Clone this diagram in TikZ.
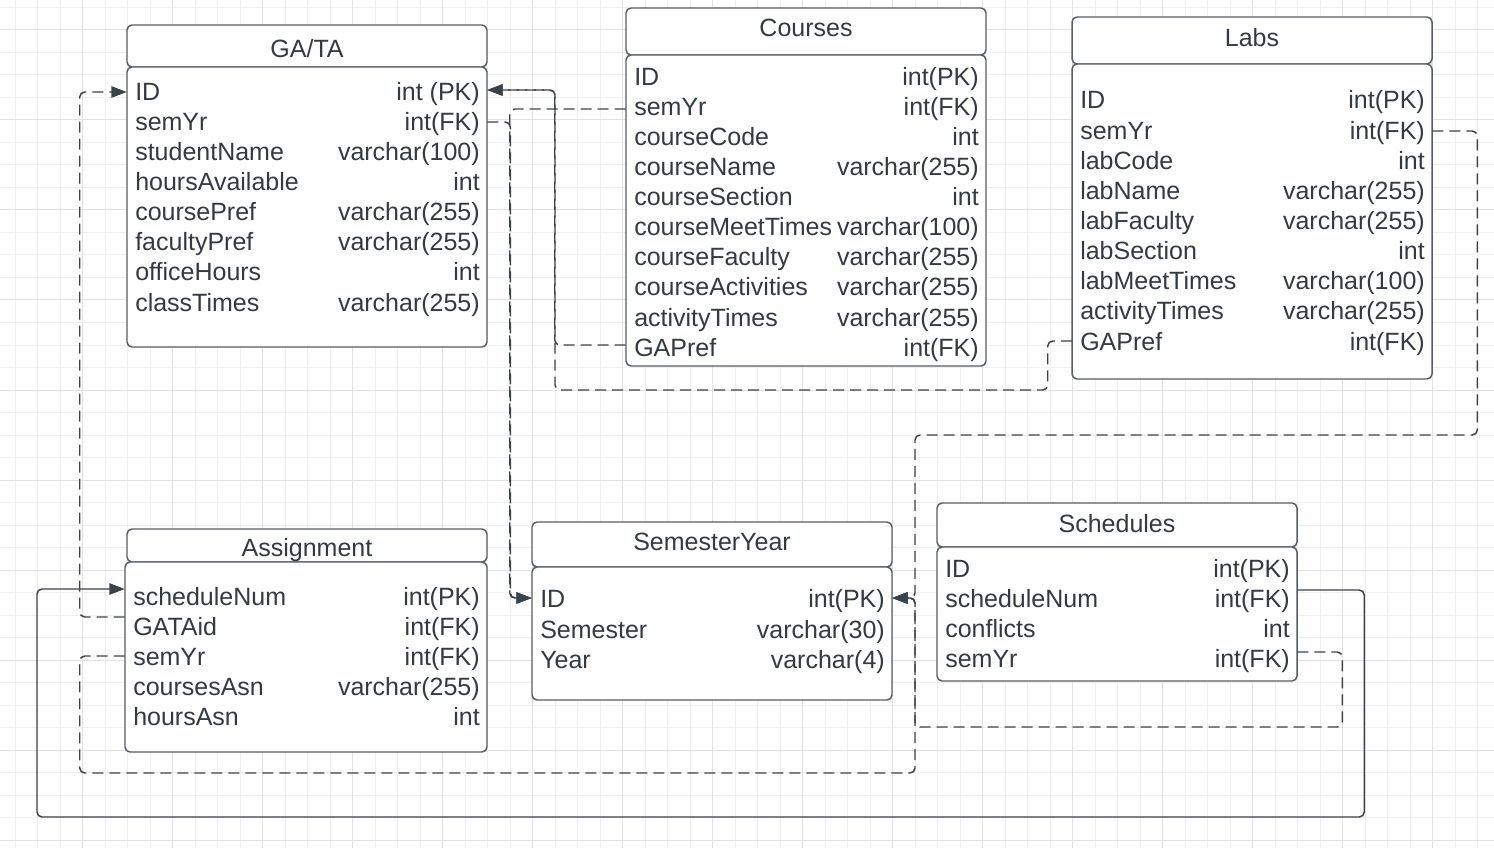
\documentclass[tikz,border=0pt]{standalone}
\usepackage{fontspec}
\setmainfont{Liberation Sans}
\usetikzlibrary{arrows.meta,calc}
\definecolor{gridlight}{HTML}{EFEFEF}
\definecolor{griddark}{HTML}{E1E1E1}
\definecolor{boxline}{HTML}{575D64}
\definecolor{connline}{HTML}{3C424A}
\definecolor{txtcol}{HTML}{343A41}
\tikzset{
  tablebox/.style={draw=boxline, fill=white, line width=1.1pt, rounded corners=3.75pt, inner sep=0pt},
  rowbox/.style={inner sep=0pt, minimum height=22.5pt},
  ftxt/.style={inner sep=0pt, text=txtcol, font=\fontsize{18.75}{22}\selectfont},
  ttl/.style={ftxt, anchor=base},
  conn/.style={draw=connline, line width=1.1pt, rounded corners=3.75pt, -{Triangle[length=11.5pt,width=8.5pt]}},
  fk/.style={conn, dash pattern=on 8.25pt off 4.5pt},
  pk/.style={conn}
}
\newcommand{\errow}[6]{%
  \node[rowbox, minimum width={(#3-#2)*0.75pt}] (#1) at ({(#2+#3)/2},#4) {};
  \node[ftxt, anchor=base west] (#1-n) at ({#2+8},{#4+9}) {#5};
  \node[ftxt, anchor=base east] (#1-t) at ({#3-7},{#4+9}) {#6};
}
\begin{document}
\begin{tikzpicture}[x=0.75pt, y=-0.75pt]
\fill[white] (0,0) rectangle (1494,848);
\useasboundingbox (0,0) rectangle (1494,848);
% grid
\foreach \k in {0,...,65} {
  \pgfmathsetmacro\gx{15+22.5*\k}
  \draw[gridlight, line width=0.75pt] (\gx,0) -- (\gx,848);
}
\foreach \k in {0,...,37} {
  \pgfmathsetmacro\gy{7.5+22.5*\k}
  \draw[gridlight, line width=0.75pt] (0,\gy) -- (1494,\gy);
}
\foreach \gx in {82.5,172.5,...,1480} {
  \draw[griddark, line width=0.75pt] (\gx,0) -- (\gx,848);
}
\foreach \gy in {30,120,...,845} {
  \draw[griddark, line width=0.75pt] (0,\gy) -- (1494,\gy);
}

% ---------- GA/TA ----------
\node[tablebox, minimum width=270pt, minimum height=31.5pt] (ga-h) at (307,46) {};
\node[tablebox, minimum width=270pt, minimum height=210pt] (ga-b) at (307,207) {};
\node[ttl] (ga-title) at (307,58) {GA/TA};
\errow{ga-id}{127}{487}{92}{ID}{int (PK)}
\errow{ga-semyr}{127}{487}{122}{semYr}{int(FK)}
\errow{ga-sname}{127}{487}{152}{studentName}{varchar(100)}
\errow{ga-hours}{127}{487}{182}{hoursAvailable}{int}
\errow{ga-cpref}{127}{487}{212}{coursePref}{varchar(255)}
\errow{ga-fpref}{127}{487}{242}{facultyPref}{varchar(255)}
\errow{ga-office}{127}{487}{272}{officeHours}{int}
\errow{ga-class}{127}{487}{302}{classTimes}{varchar(255)}

% ---------- Courses ----------
\node[tablebox, minimum width=270pt, minimum height=35.25pt] (crs-h) at (806,31.5) {};
\node[tablebox, minimum width=270pt, minimum height=233.25pt] (crs-b) at (806,210.5) {};
\node[ttl] (crs-title) at (806,37) {Courses};
\errow{crs-id}{626}{986}{77}{ID}{int(PK)}
\errow{crs-semyr}{626}{986}{107}{semYr}{int(FK)}
\errow{crs-code}{626}{986}{137}{courseCode}{int}
\errow{crs-name}{626}{986}{167}{courseName}{varchar(255)}
\errow{crs-sect}{626}{986}{197}{courseSection}{int}
\errow{crs-meet}{626}{986}{227}{courseMeetTimes}{varchar(100)}
\errow{crs-fac}{626}{986}{257}{courseFaculty}{varchar(255)}
\errow{crs-act}{626}{986}{287}{courseActivities}{varchar(255)}
\errow{crs-atimes}{626}{986}{317}{activityTimes}{varchar(255)}
\errow{crs-gapref}{626}{986}{347}{GAPref}{int(FK)}

% ---------- Labs ----------
\node[tablebox, minimum width=270pt, minimum height=35.25pt] (lab-h) at (1252,40.5) {};
\node[tablebox, minimum width=270pt, minimum height=236.25pt] (lab-b) at (1252,221.5) {};
\node[ttl] (lab-title) at (1252,47) {Labs};
\errow{lab-id}{1072}{1432}{100}{ID}{int(PK)}
\errow{lab-semyr}{1072}{1432}{131}{semYr}{int(FK)}
\errow{lab-code}{1072}{1432}{161}{labCode}{int}
\errow{lab-name}{1072}{1432}{191}{labName}{varchar(255)}
\errow{lab-fac}{1072}{1432}{221}{labFaculty}{varchar(255)}
\errow{lab-sect}{1072}{1432}{251}{labSection}{int}
\errow{lab-meet}{1072}{1432}{281}{labMeetTimes}{varchar(100)}
\errow{lab-atimes}{1072}{1432}{311}{activityTimes}{varchar(255)}
\errow{lab-gapref}{1072}{1432}{341}{GAPref}{int(FK)}

% ---------- Assignment ----------
\node[tablebox, minimum width=270pt, minimum height=24.75pt] (asg-h) at (307,545.5) {};
\node[tablebox, minimum width=271.5pt, minimum height=142.5pt] (asg-b) at (306,657) {};
\node[ttl] (asg-title) at (307,556) {Assignment};
\errow{asg-schnum}{125}{487}{596}{scheduleNum}{int(PK)}
\errow{asg-gataid}{125}{487}{626}{GATAid}{int(FK)}
\errow{asg-semyr}{125}{487}{656}{semYr}{int(FK)}
\errow{asg-casn}{125}{487}{686}{coursesAsn}{varchar(255)}
\errow{asg-hasn}{125}{487}{716}{hoursAsn}{int}

% ---------- SemesterYear ----------
\node[tablebox, minimum width=270pt, minimum height=33.75pt] (sy-h) at (712,544.5) {};
\node[tablebox, minimum width=270pt, minimum height=99.75pt] (sy-b) at (712,633.5) {};
\node[ttl] (sy-title) at (712,550) {SemesterYear};
\errow{sy-id}{532}{892}{598}{ID}{int(PK)}
\errow{sy-sem}{532}{892}{629}{Semester}{varchar(30)}
\errow{sy-year}{532}{892}{659}{Year}{varchar(4)}

% ---------- Schedules ----------
\node[tablebox, minimum width=270pt, minimum height=33pt] (sch-h) at (1117,525) {};
\node[tablebox, minimum width=270pt, minimum height=100.5pt] (sch-b) at (1117,614) {};
\node[ttl] (sch-title) at (1117,532) {Schedules};
\errow{sch-id}{937}{1297}{568}{ID}{int(PK)}
\errow{sch-schnum}{937}{1297}{598}{scheduleNum}{int(FK)}
\errow{sch-conf}{937}{1297}{628}{conflicts}{int}
\errow{sch-semyr}{937}{1297}{658}{semYr}{int(FK)}

% ---------- connectors ----------
% Assignment.GATAid -> GA/TA.ID
\draw[fk] ($(asg-gataid.west)+(0,-9)$) -- ++(-45,0) |- (ga-id.west);
% Assignment.semYr -> SemesterYear.ID
\draw[fk] (asg-semyr.west) -- ++(-45,0) |- (915,773) |- (sy-id.east);
% Labs.semYr -> SemesterYear.ID
\draw[fk] (lab-semyr.east) -- ++(45,0) |- (915,435) |- (sy-id.east);
% Schedules.semYr -> SemesterYear.ID
\draw[fk] ($(sch-semyr.east)+(0,-6)$) -- ++(45,0) |- (915,727) |- (sy-id.east);
% Schedules.scheduleNum -> Assignment.scheduleNum
\draw[pk] ($(sch-schnum.east)+(0,-8)$) -- ++(67,0) |- (37,817) |- ($(asg-schnum.west)+(0,-7)$);
% GA/TA.semYr -> SemesterYear.ID
\draw[fk] (ga-semyr.east) -- ++(23,0) |- (sy-id.west);
% Courses.semYr -> SemesterYear.ID
\draw[fk] ($(crs-semyr.west)+(0,2)$) -- ++(-116,0) |- (sy-id.west);
% Courses.GAPref -> GA/TA.ID
\draw[fk] ($(crs-gapref.west)+(0,-2)$) -- ++(-71,0) |- ($(ga-id.east)+(0,-2)$);
% Labs.GAPref -> GA/TA.ID
\draw[fk] (lab-gapref.west) -- ++(-24,0) |- (555,390) |- ($(ga-id.east)+(0,-2)$);
\end{tikzpicture}
\end{document}
